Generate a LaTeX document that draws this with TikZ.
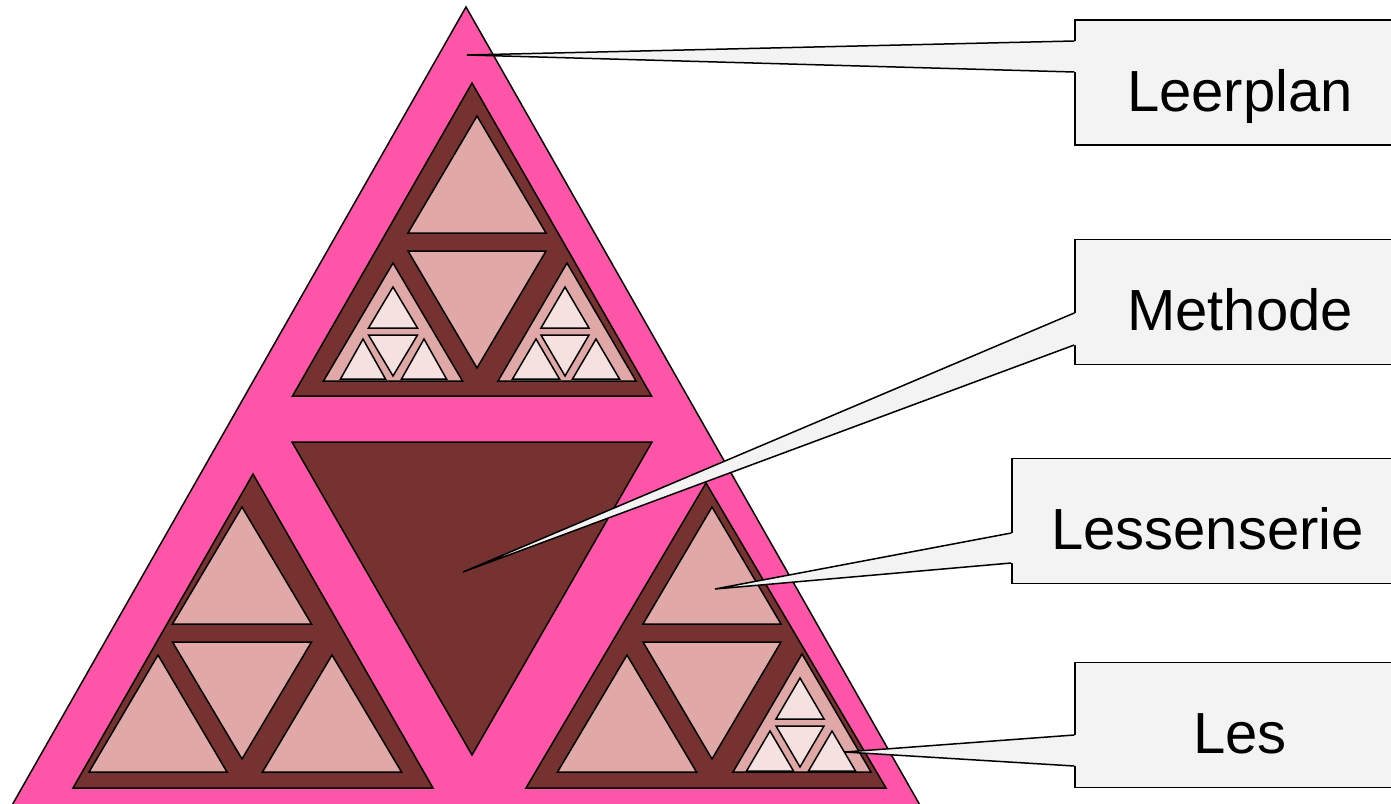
\documentclass[tikz,border=0pt]{standalone}
\usepackage{fontspec}
\setmainfont{Liberation Sans}
\usetikzlibrary{calc}

\definecolor{pinklevel}{HTML}{FF55A8}
\definecolor{brownlevel}{HTML}{763230}
\definecolor{roselevel}{HTML}{E0A8A7}
\definecolor{lightlevel}{HTML}{F4E1E0}
\definecolor{boxgray}{HTML}{F3F3F3}

% apex (or bottom vertex), half width, height (negative = pointing down)
\newcommand{\tri}[5]{\filldraw[#1] (#2,#3) -- ++(-#4,#5) -- ++(2*#4,0) -- cycle;}

\begin{document}
\begin{tikzpicture}[x=1pt, y=-1pt, line width=1.5pt,
    labelbox/.style={draw, fill=boxgray, inner sep=0pt, minimum height=125pt,
        text height=57pt, text depth=0pt, font=\fontsize{58}{60}\selectfont}]
        \useasboundingbox (0,0) rectangle (1391,803);
        \clip (0,0) rectangle (1391,803);

        % Leerplan
        \tri{fill=pinklevel}{466}{7}{455}{800}
        % Methode
        \tri{fill=brownlevel}{472}{83}{179.5}{313}
        \tri{fill=brownlevel}{472}{755}{180}{-313}
        \tri{fill=brownlevel}{253}{474}{180}{314}
        \tri{fill=brownlevel}{706}{483}{180}{305}
        % Lessenserie
        \tri{fill=roselevel}{477}{116}{69}{117}
        \tri{fill=roselevel}{477}{368}{69}{-117}
        \tri{fill=roselevel}{393}{263}{69.5}{118}
        \tri{fill=roselevel}{567}{263}{69}{118}
        \tri{fill=roselevel}{242}{507}{69.5}{117}
        \tri{fill=roselevel}{242}{759}{69.5}{-117}
        \tri{fill=roselevel}{158}{655}{69}{117}
        \tri{fill=roselevel}{332}{655}{69.5}{117}
        \tri{fill=roselevel}{712}{507}{69}{117}
        \tri{fill=roselevel}{712}{759}{69}{-117}
        \tri{fill=roselevel}{627}{655}{69.5}{117}
        \tri{fill=roselevel}{802}{654}{69}{118}
        % Les
        \tri{fill=lightlevel}{393}{287}{24.5}{41}
        \tri{fill=lightlevel}{393}{376}{24.5}{-41}
        \tri{fill=lightlevel}{363}{339}{22.5}{40}
        \tri{fill=lightlevel}{424}{339}{22.5}{40}
        \tri{fill=lightlevel}{565}{287}{24}{41}
        \tri{fill=lightlevel}{565}{376}{24}{-41}
        \tri{fill=lightlevel}{536}{339}{23.5}{40}
        \tri{fill=lightlevel}{596}{339}{23.5}{40}
        \tri{fill=lightlevel}{800}{678}{24}{41}
        \tri{fill=lightlevel}{800}{767}{24}{-41}
        \tri{fill=lightlevel}{770}{731}{23.5}{40}
        \tri{fill=lightlevel}{832}{731}{23.5}{40}

        \node[labelbox, minimum width=330pt] (lp) at (1240,82.5) {Leerplan};
        \node[labelbox, minimum width=330pt] (me) at (1240,302) {Methode};
        \node[labelbox, minimum width=391pt] (ls) at (1207.5,521) {Lessenserie};
        \node[labelbox, minimum width=330pt] (les) at (1240,725) {Les};

        \coordinate (lp-tip) at (467,55);
        \coordinate (me-tip) at (463,572);
        \coordinate (ls-tip) at (715,589);
        \coordinate (les-tip) at (845,752);

        \foreach \n/\a/\b in {lp/-41.5/-10.5, me/11/43, ls/12/42, les/10/41} {
            \fill[boxgray] ($(\n.west)+(1.5,\a)$) -- (\n-tip) -- ($(\n.west)+(1.5,\b)$) -- cycle;
            \draw ($(\n.west)+(0,\a)$) -- (\n-tip) -- ($(\n.west)+(0,\b)$);
        }
\end{tikzpicture}
\end{document}
